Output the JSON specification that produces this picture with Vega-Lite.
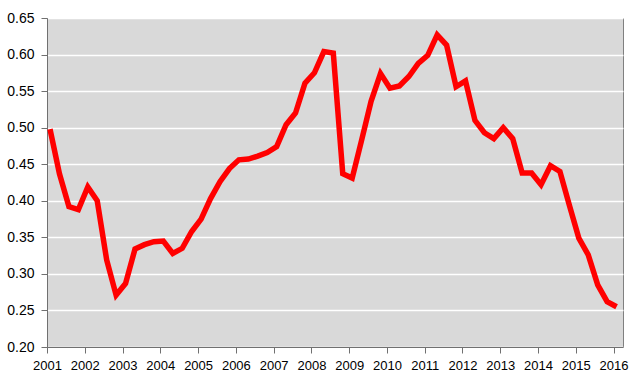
{
  "$schema": "https://vega.github.io/schema/vega-lite/v6.json",
  "autosize": "none",
  "padding": {"left": 47, "top": 18, "right": 17, "bottom": 44},
  "width": 576,
  "height": 329,
  "background": "#ffffff",
  "config": {
    "view": {"fill": "#D9D9D9", "stroke": "#808080", "strokeWidth": 1},
    "axis": {"labelFont": "Liberation Sans", "labelColor": "#000000", "domainColor": "#707070", "tickColor": "#707070", "tickSize": 6, "domainWidth": 1, "tickWidth": 1}
  },
  "data": {
    "values": [
      {"t": 2001.08, "v": 0.498}, {"t": 2001.33, "v": 0.437}, {"t": 2001.58, "v": 0.392}, {"t": 2001.83, "v": 0.388},
      {"t": 2002.08, "v": 0.419}, {"t": 2002.33, "v": 0.400}, {"t": 2002.58, "v": 0.319}, {"t": 2002.83, "v": 0.271},
      {"t": 2003.08, "v": 0.287}, {"t": 2003.33, "v": 0.334}, {"t": 2003.58, "v": 0.340}, {"t": 2003.83, "v": 0.344},
      {"t": 2004.08, "v": 0.345}, {"t": 2004.33, "v": 0.328}, {"t": 2004.58, "v": 0.335}, {"t": 2004.83, "v": 0.358},
      {"t": 2005.08, "v": 0.375}, {"t": 2005.33, "v": 0.403}, {"t": 2005.58, "v": 0.426}, {"t": 2005.83, "v": 0.444},
      {"t": 2006.08, "v": 0.456}, {"t": 2006.33, "v": 0.457}, {"t": 2006.58, "v": 0.461}, {"t": 2006.83, "v": 0.466},
      {"t": 2007.08, "v": 0.474}, {"t": 2007.33, "v": 0.504}, {"t": 2007.58, "v": 0.520}, {"t": 2007.83, "v": 0.561},
      {"t": 2008.08, "v": 0.575}, {"t": 2008.33, "v": 0.604}, {"t": 2008.58, "v": 0.602}, {"t": 2008.83, "v": 0.437},
      {"t": 2009.08, "v": 0.431}, {"t": 2009.33, "v": 0.483}, {"t": 2009.58, "v": 0.536}, {"t": 2009.83, "v": 0.574},
      {"t": 2010.08, "v": 0.554}, {"t": 2010.33, "v": 0.557}, {"t": 2010.58, "v": 0.570}, {"t": 2010.83, "v": 0.588},
      {"t": 2011.08, "v": 0.599}, {"t": 2011.33, "v": 0.627}, {"t": 2011.58, "v": 0.613}, {"t": 2011.83, "v": 0.556},
      {"t": 2012.08, "v": 0.564}, {"t": 2012.33, "v": 0.510}, {"t": 2012.58, "v": 0.493}, {"t": 2012.83, "v": 0.485},
      {"t": 2013.08, "v": 0.500}, {"t": 2013.33, "v": 0.485}, {"t": 2013.58, "v": 0.438}, {"t": 2013.83, "v": 0.438},
      {"t": 2014.08, "v": 0.422}, {"t": 2014.33, "v": 0.448}, {"t": 2014.58, "v": 0.440}, {"t": 2014.83, "v": 0.394},
      {"t": 2015.08, "v": 0.349}, {"t": 2015.33, "v": 0.326}, {"t": 2015.58, "v": 0.285}, {"t": 2015.83, "v": 0.262},
      {"t": 2016.08, "v": 0.255}
    ]
  },
  "mark": {"type": "line", "color": "#FF0000", "strokeWidth": 5.5, "strokeJoin": "miter", "strokeCap": "butt"},
  "encoding": {
    "x": {
      "field": "t", "type": "quantitative",
      "scale": {"domain": [2001, 2016.25], "nice": false, "zero": false},
      "axis": {"title": null, "values": [2001, 2002, 2003, 2004, 2005, 2006, 2007, 2008, 2009, 2010, 2011, 2012, 2013, 2014, 2015, 2016], "format": "d", "grid": false, "labelFontSize": 13, "labelPadding": 6, "labelOverlap": false, "labelFlush": false, "labelBound": false}
    },
    "y": {
      "field": "v", "type": "quantitative",
      "scale": {"domain": [0.2, 0.65], "nice": false, "zero": false},
      "axis": {"title": null, "values": [0.2, 0.25, 0.3, 0.35, 0.4, 0.45, 0.5, 0.55, 0.6, 0.65], "format": ".2f", "grid": true, "gridColor": "#FFFFFF", "gridWidth": 1.5, "gridOpacity": 1, "labelFontSize": 14, "labelPadding": 7, "labelOverlap": false, "labelFlush": false}
    }
  }
}
